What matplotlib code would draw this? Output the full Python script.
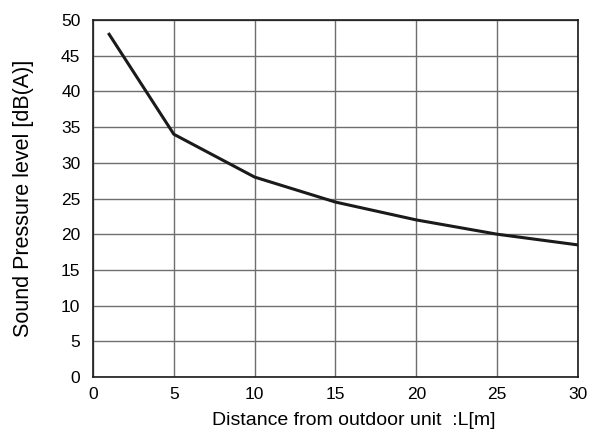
import matplotlib
matplotlib.use('Agg')
import matplotlib.pyplot as plt

plt.rcParams['font.family'] = ['Liberation Sans', 'DejaVu Sans']

# distance [m] vs sound pressure level [dB(A)]
distance = [1, 5, 10, 15, 20, 25, 30]
spl = [48, 34, 28, 24.5, 22, 20, 18.5]

x_ticks = [0, 5, 10, 15, 20, 25, 30]
y_ticks = [0, 5, 10, 15, 20, 25, 30, 35, 40, 45, 50]

fig = plt.figure(figsize=(5.9, 4.32), dpi=100)
ax = fig.add_axes([0.1576, 0.1273, 0.822, 0.8264])

ax.plot(distance, spl, color='#1a1a1a', lw=2.2, zorder=3)

ax.set_xlim(0, 30)
ax.set_ylim(0, 50)
ax.set_xticks(x_ticks)
ax.set_yticks(y_ticks)
ax.grid(True, color='#6e6e6e', lw=1.0)
ax.tick_params(length=0, labelsize=12.5)
ax.tick_params(axis='x', pad=7)
ax.tick_params(axis='y', pad=9)
for s in ax.spines.values():
    s.set_color('#1a1a1a')
    s.set_linewidth(1.2)

ax.set_xlabel('Distance from outdoor unit  :L[m]', fontsize=14)
ax.xaxis.set_label_coords(0.537, -0.098)
ax.set_ylabel('Sound Pressure level [dB(A)]', fontsize=15.5)
ax.yaxis.set_label_coords(-0.122, 0.5)

fig.savefig('out.png', dpi=100)
